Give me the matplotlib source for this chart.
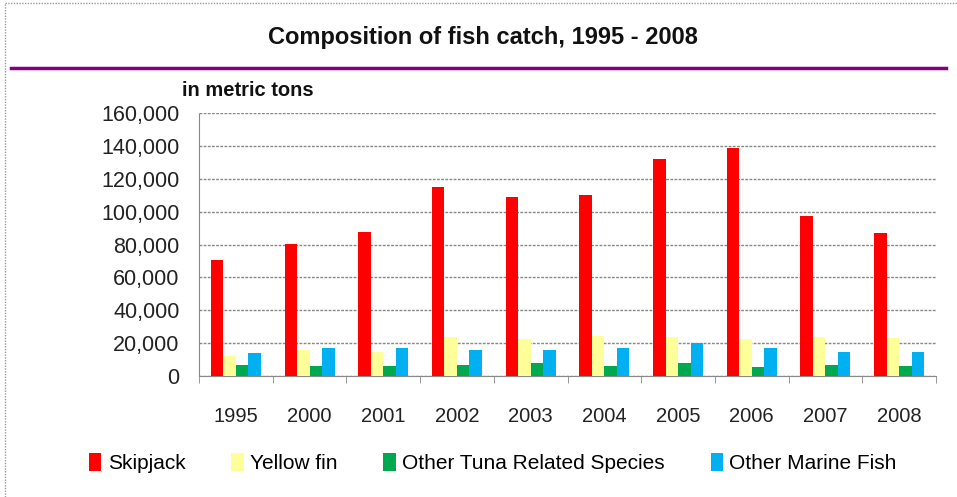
import matplotlib
matplotlib.use("Agg")
import matplotlib.pyplot as plt
from matplotlib.lines import Line2D
from matplotlib.patches import Patch
import numpy as np

years = ["1995", "2000", "2001", "2002", "2003", "2004", "2005", "2006", "2007", "2008"]
skipjack = [70400, 80200, 87700, 115200, 108700, 109900, 132300, 139000, 97300, 87100]
yellowfin = [12400, 15900, 14800, 24000, 22400, 24400, 23800, 22400, 23800, 23200]
other_tuna = [6700, 5900, 5900, 6700, 7700, 5900, 7700, 5300, 6700, 5900]
other_marine = [13800, 16900, 16900, 15900, 15900, 16900, 20300, 16900, 14400, 14400]

series_names = ["Skipjack", "Yellow fin", "Other Tuna Related Species", "Other Marine Fish"]
series_values = [skipjack, yellowfin, other_tuna, other_marine]
colors = ["#FF0000", "#FFFF99", "#00A84F", "#00B0F0"]

plt.rcParams["font.family"] = ["Liberation Sans", "DejaVu Sans"]

fig = plt.figure(figsize=(9.57, 4.97), dpi=100)
ax = fig.add_axes([0.208, 0.2435, 0.770, 0.529])

x = np.arange(len(years))
bw = 0.17
for i, (vals, c) in enumerate(zip(series_values, colors)):
    ax.bar(x + (i - 1.5) * bw, vals, width=bw, color=c, zorder=3, label=series_names[i])

ax.set_xlim(-0.5, len(years) - 0.5)
ax.set_ylim(0, 160000)
ax.set_yticks(np.arange(0, 160001, 20000))
ax.set_yticklabels([f"{v:,}" for v in range(0, 160001, 20000)], fontsize=15.5, color="#222222")
ax.set_xticks(x)
ax.set_xticklabels(years, fontsize=14.5, color="#222222")
ax.tick_params(axis="x", length=0, pad=22)
ax.tick_params(axis="y", length=0, pad=14)
ax.set_xticks(np.arange(-0.5, len(years)), minor=True)
ax.tick_params(axis="x", which="minor", length=5, color="#888888")

ax.grid(axis="y", color="#888888", linestyle=(0, (2, 1)), linewidth=1, zorder=0)
for side in ["top", "right"]:
    ax.spines[side].set_visible(False)
ax.spines["left"].set_color("#888888")
ax.spines["left"].set_linestyle((0, (2, 1)))
ax.spines["bottom"].set_color("#888888")

fig.text(0.505, 0.925, "Composition of fish catch, 1995 - 2008", ha="center", va="center",
         fontsize=17, fontweight="bold", color="#111111")
fig.add_artist(Line2D([0.011, 0.988], [0.863, 0.863], color="#800080", linewidth=2.5))
fig.text(0.19, 0.818, "in metric tons", ha="left", va="center", fontsize=14.5,
         fontweight="bold", color="#111111")

# dotted outer frame on top and left edges
fig.add_artist(Line2D([0.005, 1.0], [0.994, 0.994], color="#999999", linewidth=1, linestyle=(0, (1, 1))))
fig.add_artist(Line2D([0.005, 0.005], [0.0, 0.994], color="#999999", linewidth=1, linestyle=(0, (1, 1))))

handles = [Patch(facecolor=c, edgecolor="none") for c in colors]
fig.legend(handles, series_names, loc="center", bbox_to_anchor=(0.515, 0.068), ncol=4,
           frameon=False, fontsize=15, handlelength=0.6, handleheight=0.9,
           handletextpad=0.3, columnspacing=2.2)

fig.savefig("out.png", dpi=100)
